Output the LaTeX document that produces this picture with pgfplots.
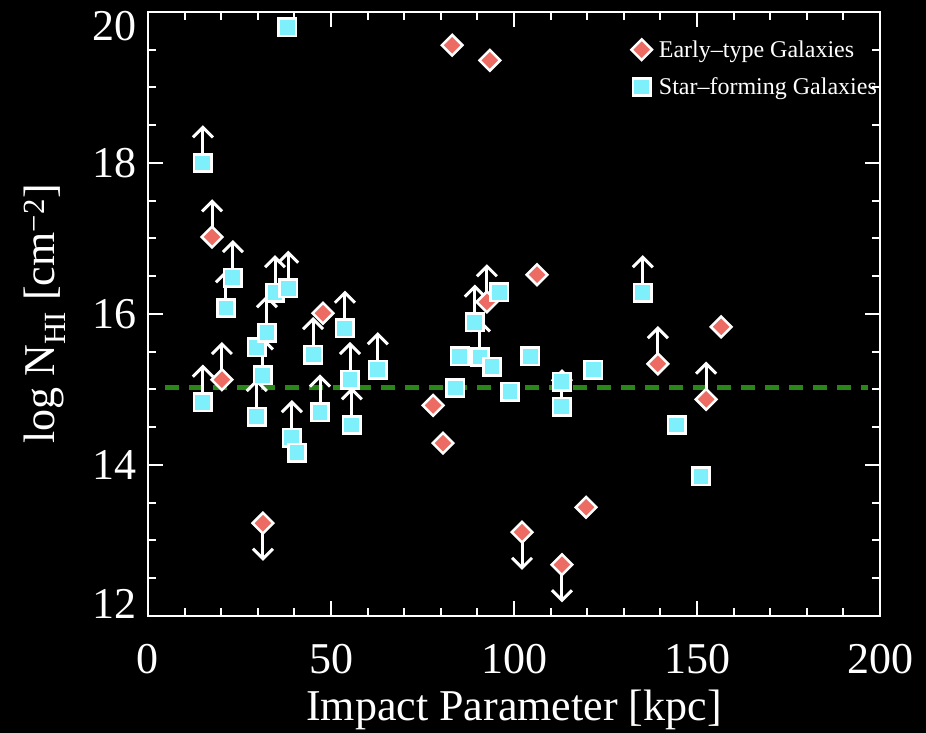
\documentclass[border=0pt]{standalone}
\usepackage{fontspec}
\setmainfont{Liberation Serif}
\usepackage{pgfplots}
\usepackage{pgfplotstable}
\pgfplotsset{compat=1.18}
\usetikzlibrary{arrows.meta}
\definecolor{sfcyan}{RGB}{125,240,252}
\definecolor{etred}{RGB}{236,108,100}
\definecolor{lgreen}{RGB}{40,135,22}

\pgfplotstableread{
x y
47.8 16.01
77.9 14.79
80.6 14.29
83.1 19.56
93.4 19.36
106.3 16.52
119.7 13.44
156.6 15.83
17.5 17.02
20.2 15.13
31.4 13.23
92.6 16.16
102.2 13.11
113.1 12.68
139.3 15.34
152.5 14.87
}\etdata

\pgfplotstableread{
x y
17.5 17.02
20.2 15.13
92.6 16.16
139.3 15.34
152.5 14.87
}\etup

\pgfplotstableread{
x y
31.4 13.23
102.2 13.11
113.1 12.68
}\etdown

\pgfplotstableread{
x y
15.0 18.00
15.0 14.83
21.3 16.08
23.2 16.48
29.7 15.56
29.7 14.64
31.4 15.19
32.5 15.75
34.7 16.28
38.0 19.80
38.3 16.34
39.3 14.36
40.7 14.16
45.1 15.46
47.0 14.70
53.8 15.81
55.2 15.13
55.7 14.53
62.8 15.26
83.9 15.02
85.2 15.44
89.3 15.89
90.7 15.43
94.0 15.30
96.0 16.29
98.9 14.97
104.4 15.44
113.1 15.10
113.1 14.77
121.6 15.26
135.2 16.28
144.5 14.53
151.1 13.85
}\sfdata

\pgfplotstableread{
x y
15.0 18.00
15.0 14.83
21.3 16.08
23.2 16.48
29.7 14.64
31.4 15.19
32.5 15.75
34.7 16.28
38.3 16.34
39.3 14.36
45.1 15.46
47.0 14.70
53.8 15.81
55.2 15.13
55.7 14.53
62.8 15.26
89.3 15.89
90.7 15.43
113.1 14.77
135.2 16.28
}\sfup

\begin{document}
\begin{tikzpicture}
\fill[black] (-148pt,-117pt) rectangle (778pt,616pt);
\begin{axis}[
  at={(0,0)}, anchor=south west,
  scale only axis, width=732pt, height=604pt,
  xmin=0, xmax=200, ymin=12, ymax=20,
  xtick={0,50,100,150,200}, xticklabels={0,50,100,150,200},
  ytick={12,14,16,18,20},
  yticklabels={\smash{\raisebox{-3pt}{12}},14,16,18,\smash{\raisebox{-28pt}{20}}},
  minor x tick num=4, minor y tick num=3,
  major tick length=15pt, minor tick length=8pt,
  tick align=inside,
  axis line style={white, line width=2.5pt},
  tick style={white, line width=2pt},
  tick label style={font=\fontsize{44}{50}\selectfont, text=white, inner sep=0pt},
  xticklabel style={yshift=-28pt},
  yticklabel style={xshift=-11pt},
  label style={font=\fontsize{44}{50}\selectfont, text=white},
  xlabel={Impact Parameter [kpc]},
  ylabel={log N\textsubscript{HI} [cm\textsuperscript{−2}]},
  xlabel style={at={(axis description cs:0.5,-0.1738)}, anchor=base, inner sep=0pt},
  ylabel style={at={(axis description cs:-0.1284,0.5)}, anchor=base, inner sep=0pt},
  legend style={draw=none, fill=none, text=white, font=\fontsize{24}{28}\selectfont,
    at={(axis cs:132.0,19.65)}, anchor=north west, row sep=15pt, inner sep=0pt,
    nodes={inner sep=2pt}},
  legend cell align=left,
  legend image code/.code={\path (0cm,0cm) (0.88cm,0cm); \draw[mark repeat=2,mark phase=2,#1] plot coordinates {(0cm,0cm) (0.35cm,0cm) (0.7cm,0cm)};},
]
\addplot[only marks, mark=square*, mark size=7.3pt,
  mark options={rotate=45, fill=etred, draw=white, line width=2.5pt}] table[x=x,y=y] {\etdata};
\addlegendentry{Early–type Galaxies}
\addplot[only marks, mark=square*, mark size=8.7pt,
  mark options={fill=sfcyan, draw=white, line width=2.5pt}] table[x=x,y=y] {\sfdata};
\addlegendentry{Star–forming Galaxies}
\addplot[lgreen, line width=5pt, dash pattern=on 14pt off 10pt, forget plot] coordinates {(4.6,15.02) (196.7,15.02)};
\addplot[white, line width=3pt, -{Straight Barb[length=10pt,width=20pt]}, quiver={u=0,v=0.5}, forget plot] table[x=x,y=y] {\etup};
\addplot[white, line width=3pt, -{Straight Barb[length=10pt,width=20pt]}, quiver={u=0,v=-0.5}, forget plot] table[x=x,y=y] {\etdown};
\addplot[white, line width=3pt, -{Straight Barb[length=10pt,width=20pt]}, quiver={u=0,v=0.5}, forget plot] table[x=x,y=y] {\sfup};
\end{axis}
\end{tikzpicture}
\end{document}
